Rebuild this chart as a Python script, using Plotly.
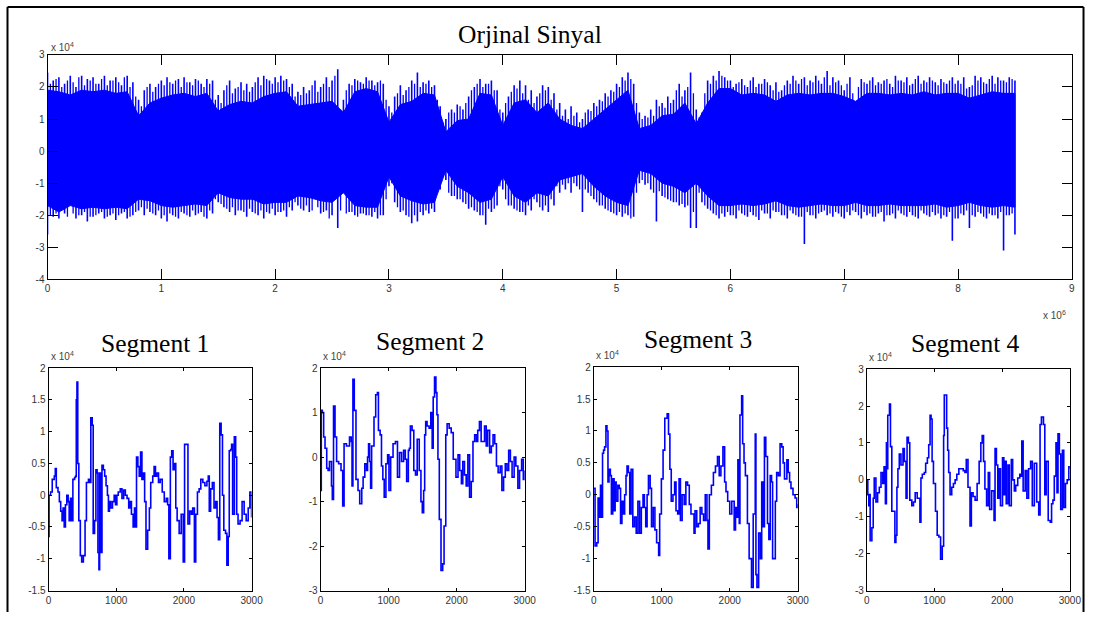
import plotly.graph_objects as go

W, H = 1097, 618
BLUE = "#0000ff"

# ---- Original signal (x in units of 1e6 samples, y in units of 1e4) ----
# inner solid body of the waveform, one value every 0.1e6 samples
core_hi = [1.9, 1.85, 1.75, 1.9, 1.85, 1.9, 1.8, 1.85, 1.1, 1.5,
           1.65, 1.75, 1.8, 1.7, 1.8, 1.25, 1.45, 1.55, 1.5, 1.7,
           1.8, 1.85, 1.4, 1.45, 1.5, 1.55, 1.2, 1.85, 1.95, 1.85,
           0.9, 1.45, 1.55, 1.8, 1.75, 0.6, 0.95, 1.0, 1.8, 1.75,
           0.8, 1.5, 1.6, 1.2, 1.5, 1.0, 0.8, 0.7, 1.0, 1.3,
           1.6, 1.9, 0.7, 0.8, 1.1, 1.15, 1.5, 0.85, 1.5, 1.95,
           1.95, 1.75, 1.8, 1.75, 1.55, 1.75, 1.8, 1.75, 1.8, 1.8,
           1.7, 1.55, 1.8, 1.8, 1.75, 1.8, 1.75, 1.85, 1.75, 1.8,
           1.8, 1.65, 1.75, 1.85, 1.8, 1.8]
core_lo = [-1.7, -1.9, -1.7, -1.8, -1.75, -1.8, -1.75, -1.8, -1.5, -1.55,
           -1.7, -1.75, -1.7, -1.65, -1.7, -1.3, -1.45, -1.5, -1.5, -1.65,
           -1.6, -1.6, -1.4, -1.45, -1.55, -1.6, -1.3, -1.7, -1.75, -1.75,
           -0.8, -1.4, -1.55, -1.65, -1.6, -0.6, -1.1, -1.3, -1.6, -1.5,
           -0.8, -1.4, -1.6, -1.3, -1.4, -0.9, -0.8, -0.7, -1.1, -1.4,
           -1.6, -1.7, -0.6, -0.7, -1.0, -1.1, -1.3, -1.0, -1.4, -1.7,
           -1.7, -1.65, -1.7, -1.65, -1.55, -1.7, -1.75, -1.7, -1.65, -1.7,
           -1.7, -1.6, -1.7, -1.7, -1.65, -1.7, -1.7, -1.7, -1.65, -1.75,
           -1.7, -1.6, -1.7, -1.75, -1.7, -1.75]

# main peaks, one value every 0.05e6 samples (starting at 0)
peak_hi = [2.45, 2.2, 2.3, 2.1, 2.35, 2.0, 2.35, 2.25, 2.3, 2.1, 2.35, 2.2, 2.3, 2.05, 2.35, 2.15, 1.6, 1.9, 2.1, 2.0,
           2.2, 2.3, 2.1, 2.25, 2.3, 2.15, 2.25, 2.1, 2.25, 2.2, 1.75, 1.9, 2.2, 1.95, 2.15, 2.1, 2.0, 2.3, 2.35, 2.2,
           2.3, 2.35, 2.25, 2.1, 1.85, 2.0, 1.9, 2.2, 2.0, 2.3, 2.2, 2.55, 1.6, 2.1, 2.25, 2.15, 2.3, 2.2, 2.15, 2.1,
           1.4, 1.7, 2.05, 1.9, 2.2, 2.45, 2.15, 2.2, 2.05, 1.4, 1.0, 1.3, 1.45, 1.3, 1.7, 2.0, 2.25, 2.1, 2.2, 1.9,
           1.2, 1.7, 2.05, 2.2, 2.05, 1.9, 1.7, 2.05, 2.0, 1.8, 1.5, 1.3, 1.4, 1.2, 1.0, 1.3, 1.5, 1.6, 1.8, 1.9,
           2.1, 2.3, 2.45, 2.1, 1.2, 1.1, 1.3, 1.6, 1.5, 1.7, 1.6, 2.1, 1.9, 2.45, 1.3, 1.2, 2.2, 2.35, 2.5, 2.3,
           2.2, 2.1, 2.25, 2.0, 2.3, 2.1, 2.25, 2.05, 2.15, 1.9, 2.2, 2.35, 2.1, 2.3, 2.2, 2.35, 2.1, 2.5, 2.3, 2.2,
           1.9, 2.3, 1.5, 2.25, 2.1, 2.3, 2.15, 2.2, 2.1, 2.35, 2.2, 2.3, 2.1, 2.35, 2.2, 2.3, 2.15, 2.25, 2.1, 2.3,
           2.2, 2.3, 2.0, 2.35, 2.3, 2.1, 2.35, 2.3, 2.2, 2.3, 2.2]
peak_lo = [-2.6, -2.05, -2.1, -1.95, -1.0, -2.1, -2.0, -2.2, -2.05, -1.95, -2.1, -2.0, -2.15, -1.95, -2.1, -2.0, -1.85, -2.0, -1.9, -2.0,
           -2.1, -2.2, -2.0, -2.1, -1.95, -2.05, -2.0, -1.9, -2.1, -1.95, -1.6, -1.75, -1.9, -2.0, -1.85, -2.05, -1.9, -2.0, -2.1, -1.95,
           -2.0, -1.9, -2.05, -1.85, -1.7, -1.85, -1.9, -0.8, -1.95, -1.85, -2.0, -2.4, -0.5, -1.9, -2.0, -1.95, -2.0, -2.05, -2.1, -2.0,
           -1.1, -1.6, -1.9, -2.0, -2.25, -2.2, -2.0, -1.95, -1.9, -1.2, -0.9, -1.4, -1.5, -1.6, -1.8, -1.85, -2.0, -2.3, -1.9, -1.7,
           -1.2, -1.7, -1.8, -1.9, -2.0, -1.85, -1.6, -1.85, -1.9, -1.7, -1.3, -1.2, -1.3, -1.1, -1.9, -1.3, -1.5, -1.7, -1.8, -1.9,
           -2.0, -2.05, -2.0, -2.05, -1.0, -1.05, -1.2, -2.2, -1.4, -1.5, -1.6, -1.7, -1.75, -2.4, -2.4, -1.6, -1.8, -1.95, -2.1, -2.05,
           -2.0, -2.1, -1.95, -2.05, -2.0, -2.15, -1.95, -2.1, -1.9, -2.0, -2.1, -1.95, -2.05, -2.9, -2.0, -2.1, -1.9, -2.0, -2.05, -1.95,
           -2.1, -2.0, -1.9, -2.1, -2.0, -2.05, -1.95, -2.2, -2.0, -2.1, -1.95, -2.05, -2.0, -2.1, -1.95, -2.05, -2.0, -2.1, -2.05, -2.8,
           -2.1, -2.0, -2.4, -2.05, -1.95, -2.1, -2.0, -2.1, -3.1, -2.0, -2.6]

# secondary peaks, in between the main ones (starting at 0.025e6)
minor_hi = [2.1, 2.25, 2.0, 2.2, 2.15, 2.3, 2.05, 2.2, 2.1, 2.25, 2.05, 2.2, 2.15, 2.3, 2.0, 1.7, 1.4, 2.0, 1.85, 2.1,
            2.05, 2.15, 2.2, 2.0, 2.15, 2.05, 2.2, 2.0, 2.1, 1.6, 1.5, 2.05, 1.8, 2.0, 1.9, 1.85, 2.15, 2.05, 2.25, 2.1,
            2.15, 2.2, 2.0, 1.7, 1.75, 1.8, 2.05, 1.85, 2.1, 2.0, 2.35, 1.3, 1.9, 2.05, 2.2, 2.1, 2.2, 2.05, 2.2, 1.6,
            1.2, 1.8, 1.75, 2.0, 2.1, 2.0, 2.1, 2.0, 1.6, 0.9, 1.2, 1.2, 1.4, 1.5, 1.9, 2.1, 2.0, 2.1, 1.9, 1.3,
            1.5, 1.85, 1.95, 1.8, 1.6, 1.5, 1.8, 1.9, 1.6, 1.3, 1.1, 1.0, 1.1, 0.9, 1.2, 1.25, 1.4, 1.55, 1.7, 1.85,
            2.0, 2.2, 2.25, 1.5, 1.0, 1.05, 1.1, 1.4, 1.35, 1.5, 1.9, 1.7, 2.0, 1.8, 1.05, 1.8, 2.1, 2.2, 2.35, 2.2,
            2.0, 2.15, 2.05, 2.2, 2.0, 2.1, 2.15, 1.9, 1.85, 2.05, 2.1, 2.2, 2.25, 2.05, 2.15, 2.2, 2.3, 2.05, 2.15, 2.05,
            2.1, 1.8, 2.0, 2.15, 2.2, 2.05, 2.1, 2.25, 2.0, 2.2, 2.15, 2.05, 2.25, 2.1, 2.15, 2.2, 2.05, 2.15, 2.2, 2.1,
            2.1, 1.95, 2.05, 2.2, 2.15, 2.25, 2.1, 2.2, 2.15, 2.25]
minor_lo = [-2.0, -1.95, -1.85, -2.05, -1.95, -2.0, -1.9, -2.05, -2.0, -1.9, -2.05, -1.95, -2.0, -1.9, -2.05, -1.9, -1.75, -1.8, -1.95, -1.85,
            -2.0, -1.95, -2.05, -1.9, -2.0, -1.85, -1.95, -2.05, -1.85, -1.5, -1.65, -1.8, -1.75, -1.85, -1.9, -1.8, -1.95, -1.85, -1.9, -1.8,
            -1.9, -1.85, -1.75, -1.6, -1.8, -1.7, -1.85, -1.75, -1.9, -2.1, -1.3, -1.85, -1.95, -1.9, -2.05, -1.95, -2.0, -1.9, -2.0, -1.5,
            -1.0, -1.75, -1.85, -2.05, -2.0, -1.9, -1.85, -1.8, -1.1, -0.8, -1.3, -1.4, -1.5, -1.65, -1.75, -1.9, -2.0, -1.8, -1.8, -1.1,
            -1.5, -1.7, -1.85, -1.9, -1.7, -1.5, -1.75, -1.7, -1.5, -1.1, -1.05, -1.0, -1.0, -1.2, -1.2, -1.4, -1.6, -1.7, -1.85, -1.95,
            -1.9, -1.95, -2.1, -1.3, -0.9, -1.0, -1.3, -1.25, -1.45, -1.55, -1.6, -1.65, -1.7, -1.9, -1.3, -1.7, -1.85, -2.0, -1.95, -1.9,
            -2.0, -1.85, -2.0, -1.9, -2.05, -1.85, -1.95, -1.85, -1.9, -2.0, -1.85, -2.0, -2.05, -1.9, -2.0, -1.95, -1.85, -1.95, -1.9, -2.05,
            -1.9, -1.85, -2.0, -1.9, -1.95, -2.05, -1.9, -2.0, -1.95, -1.85, -2.0, -1.9, -2.05, -1.85, -2.0, -1.9, -1.95, -2.0, -1.9, -2.1,
            -1.95, -1.85, -2.0, -1.9, -2.05, -1.95, -2.0, -1.9, -2.0, -1.95]

core_t = [i / 10 for i in range(len(core_hi))]
peak_t = [i / 20 for i in range(len(peak_hi))]
minor_t = [0.025 + i / 20 for i in range(len(minor_hi))]
assert len(core_lo) == len(core_hi) and len(peak_lo) == len(peak_hi) and len(minor_lo) == len(minor_hi)

# ---- Segments: (sample index, amplitude in units of 1e4) ----
seg1 = [(0, -0.65), (8, 0.0), (30, 0.05), (55, 0.25), (85, 0.3), (100, 0.42), (115, 0.12), (140, 0.05), (160, -0.1), (180, -0.25),
        (200, -0.4), (215, -0.2), (232, -0.5), (250, -0.15), (270, 0.0), (290, -0.1), (305, -0.4), (325, -0.05), (345, -0.4), (360, 0.25),
        (385, 0.28), (400, 0.3), (410, 1.5), (420, 1.78), (432, 0.5), (448, -0.4), (470, -0.95), (490, -1.05), (515, -0.95), (540, -0.4),
        (560, 0.2), (590, 0.25), (610, 0.2), (625, 1.22), (645, 1.1), (660, -0.6), (680, -0.4), (700, 0.4), (718, 0.35), (730, -0.9),
        (745, -1.17), (755, 0.35), (770, -0.9), (790, 0.47), (810, 0.4), (830, 0.3), (850, 0.15), (870, 0.0), (885, -0.25), (900, -0.1),
        (920, -0.2), (945, -0.1), (970, 0.0), (990, -0.15), (1010, 0.0), (1030, 0.05), (1060, 0.1), (1085, -0.05), (1110, 0.08), (1135, 0.0),
        (1160, -0.05), (1185, -0.2), (1205, -0.1), (1225, -0.3), (1250, -0.5), (1270, -0.2), (1290, -0.5), (1300, 0.6), (1320, 0.45), (1340, 0.3),
        (1360, 0.68), (1380, 0.25), (1400, 0.35), (1420, -0.1), (1440, -0.85), (1465, -0.55), (1490, -0.2), (1510, 0.2), (1540, 0.3), (1560, 0.45),
        (1580, 0.3), (1600, 0.35), (1625, 0.2), (1650, 0.25), (1680, 0.05), (1710, -0.1), (1740, -0.05), (1760, -0.15), (1778, -1.0), (1800, 0.6),
        (1820, 0.7), (1840, 0.4), (1860, 0.5), (1880, -0.2), (1900, -0.4), (1930, -0.6), (1960, -0.3), (1990, -1.05), (2010, 0.8), (2040, 0.8),
        (2060, -0.45), (2085, -0.25), (2110, -0.3), (2130, -0.2), (2155, -1.05), (2175, -0.3), (2200, 0.05), (2225, 0.1), (2250, 0.25), (2280, 0.2),
        (2310, 0.15), (2340, 0.22), (2360, 0.3), (2375, -0.25), (2395, 0.1), (2420, 0.2), (2445, -0.2), (2470, -0.1), (2490, -0.35), (2510, -0.7),
        (2530, 1.13), (2550, 0.95), (2570, 0.0), (2590, -0.55), (2615, -0.6), (2635, -1.1), (2655, -0.65), (2670, 0.7), (2690, 0.72), (2705, 0.8),
        (2720, -0.3), (2745, 0.92), (2765, 0.6), (2780, -0.3), (2800, -0.45), (2830, -0.4), (2860, -0.1), (2890, -0.3), (2920, -0.4), (2950, -0.2),
        (2975, 0.05), (3000, -0.35)]

seg2 = [(0, -0.75), (10, 1.05), (25, 1.0), (45, 0.45), (65, 0.2), (90, -0.25), (110, -0.3), (130, -0.1), (160, -0.65), (172, -0.95),
        (190, 1.15), (212, 0.45), (235, -0.1), (265, -0.15), (300, -0.3), (325, -1.1), (345, 0.3), (380, 0.25), (425, 0.45), (450, 0.35),
        (462, -0.65), (475, 1.75), (495, 1.05), (520, -0.5), (550, -0.75), (575, -1.05), (605, -0.7), (625, -0.45), (650, -0.15), (675, -0.3),
        (690, 0.0), (705, 0.3), (720, -0.1), (735, -0.7), (750, 0.25), (785, 0.9), (810, 1.4), (835, 1.45), (850, 0.6), (875, 0.5),
        (895, -0.2), (915, -0.5), (935, -0.9), (960, -0.15), (985, 0.05), (1005, -0.75), (1030, 0.0), (1065, 0.3), (1100, 0.35), (1130, -0.45),
        (1160, 0.1), (1190, -0.1), (1220, 0.15), (1245, -0.05), (1265, -0.55), (1290, 0.15), (1305, 0.2), (1320, 0.7), (1345, 0.6), (1370, -0.3),
        (1395, -0.4), (1420, 0.4), (1450, -0.3), (1475, -1.0), (1495, -1.25), (1515, -0.75), (1530, 0.5), (1545, 0.8), (1565, 0.7), (1595, 0.65),
        (1620, 1.0), (1640, 0.2), (1655, 1.35), (1675, 1.8), (1695, 1.45), (1710, 0.95), (1725, -0.05), (1745, -1.4), (1770, -2.55), (1795, -2.4),
        (1815, -1.55), (1840, 0.5), (1860, 0.75), (1890, 0.65), (1920, 0.55), (1950, -0.05), (1990, -0.45), (2020, 0.05), (2045, -0.3), (2070, -0.6),
        (2090, -0.1), (2115, -0.4), (2140, -0.65), (2165, 0.05), (2190, -0.9), (2215, -0.55), (2240, 0.35), (2265, 0.5), (2290, 0.35), (2310, 0.6),
        (2335, 0.8), (2360, 0.35), (2385, 0.35), (2410, 0.7), (2435, 0.25), (2455, 0.6), (2485, 0.1), (2510, 0.25), (2535, 0.5), (2560, 0.3),
        (2585, -0.2), (2610, -0.35), (2640, -0.2), (2665, -0.75), (2690, -0.45), (2715, -0.15), (2740, -0.3), (2765, 0.15), (2790, -0.1), (2815, -0.45),
        (2845, 0.0), (2870, -0.2), (2900, -0.7), (2925, -0.3), (2955, -0.05), (2980, -0.5), (3000, -0.3)]

seg3 = [(0, 0.1), (20, -0.8), (45, -0.75), (65, -0.05), (85, -0.35), (100, 0.15), (115, -0.35), (130, 0.65), (145, 0.7), (160, 0.75),
        (180, 1.08), (195, 1.0), (210, 0.2), (225, 0.4), (245, 0.3), (260, -0.3), (280, 0.25), (300, -0.25), (315, 0.2), (330, -0.1),
        (355, 0.15), (375, 0.1), (395, -0.45), (415, -0.1), (435, -0.3), (455, 0.0), (475, 0.3), (490, 0.45), (510, 0.35), (530, -0.3),
        (550, 0.4), (575, -0.5), (600, -0.35), (625, -0.6), (650, -0.1), (675, -0.6), (700, -0.2), (725, 0.0), (745, -0.2), (765, -0.5),
        (785, 0.0), (805, 0.3), (830, 0.1), (850, -0.5), (875, -0.2), (900, -0.55), (925, -0.75), (955, -0.95), (970, -0.3), (995, 0.25),
        (1020, 0.7), (1045, 1.2), (1080, 1.27), (1100, 0.95), (1120, 0.4), (1140, -0.1), (1165, 0.0), (1190, 0.2), (1210, -0.25), (1235, -0.3),
        (1255, 0.25), (1275, -0.4), (1300, 0.0), (1330, -0.15), (1355, 0.2), (1380, 0.15), (1405, -0.15), (1430, -0.3), (1475, -0.6), (1490, -0.25),
        (1515, -0.5), (1540, -0.45), (1565, -0.2), (1590, -0.3), (1615, -0.4), (1640, 0.0), (1665, -0.4), (1680, -0.85), (1700, 0.0), (1730, 0.15),
        (1760, 0.35), (1790, 0.45), (1820, 0.6), (1845, 0.3), (1870, 0.45), (1900, 0.75), (1925, 0.2), (1945, 0.05), (1970, -0.1), (2000, -0.3),
        (2030, -0.1), (2065, -0.55), (2085, -0.2), (2105, -0.35), (2120, 0.55), (2140, -0.45), (2150, 1.25), (2175, 1.55), (2190, 0.8), (2210, 0.5),
        (2230, 0.3), (2260, -0.45), (2285, -1.0), (2320, -1.45), (2345, -0.3), (2375, 0.95), (2385, -1.25), (2400, -1.45), (2425, -0.6), (2450, -1.0),
        (2470, 0.2), (2490, -0.5), (2510, 0.9), (2530, 0.6), (2555, -0.45), (2575, -0.7), (2595, 0.3), (2615, 0.2), (2630, -1.0), (2650, -1.0),
        (2670, -0.1), (2690, 0.35), (2715, 0.3), (2740, 0.8), (2765, 0.75), (2785, 0.5), (2805, 0.25), (2840, 0.55), (2860, 0.35), (2880, 0.2),
        (2900, 0.1), (2930, 0.0), (2960, -0.05), (2985, -0.2), (3000, -0.15)]

seg4 = [(0, 0.0), (15, -0.4), (30, -0.7), (40, -0.4), (50, -1.65), (75, -1.3), (95, -0.5), (110, 0.05), (135, -0.6), (160, -0.35),
        (185, -0.2), (210, 0.2), (235, -0.1), (255, 0.35), (275, -0.65), (290, 1.0), (300, 0.3), (310, 1.75), (335, 2.05), (350, 0.9),
        (370, -0.85), (415, -1.7), (430, -1.5), (445, -0.2), (460, 0.3), (480, 0.7), (505, 0.4), (535, 0.85), (555, 0.5), (580, -0.5),
        (595, 1.15), (615, 1.0), (635, -0.55), (665, -0.7), (690, -0.6), (715, -0.35), (745, -0.5), (785, -1.15), (800, 0.05), (820, 0.15),
        (850, 0.2), (870, 0.45), (895, 0.6), (915, 0.95), (935, 1.75), (950, 1.65), (965, 0.5), (985, -0.1), (1015, -0.85), (1040, -1.5),
        (1065, -1.55), (1090, -2.15), (1115, -1.8), (1135, 1.2), (1145, 2.3), (1165, 2.3), (1180, 1.4), (1195, 0.8), (1210, 0.2), (1230, -0.4),
        (1255, -0.2), (1280, -0.1), (1305, 0.0), (1330, 0.15), (1360, 0.3), (1395, 0.3), (1425, 0.25), (1450, 0.2), (1470, 0.55), (1495, -0.2),
        (1525, -1.25), (1545, -0.35), (1570, -0.45), (1600, -0.55), (1630, -0.1), (1660, 0.5), (1685, 1.0), (1705, 1.2), (1725, 0.5), (1745, -0.25),
        (1770, -0.7), (1795, 0.2), (1815, -0.8), (1845, -0.3), (1880, -1.1), (1895, 0.85), (1915, 0.4), (1935, -0.5), (1955, 0.3), (1975, -0.7),
        (2005, 0.6), (2025, -0.4), (2045, 0.5), (2060, -0.65), (2085, 0.4), (2105, -0.7), (2135, 0.55), (2155, 0.0), (2180, -0.3), (2200, -0.15),
        (2230, 0.05), (2260, 0.15), (2280, 0.1), (2290, 1.05), (2310, -0.3), (2340, 0.25), (2365, -0.5), (2390, 0.3), (2420, 0.5), (2445, -0.7),
        (2475, 0.45), (2510, -0.6), (2540, -0.95), (2560, 1.5), (2580, 1.7), (2610, 1.5), (2630, -0.4), (2650, 0.5), (2680, -1.1), (2710, -1.15),
        (2730, -0.65), (2750, -0.55), (2770, 0.1), (2795, 1.0), (2810, -0.35), (2825, 1.25), (2845, 0.7), (2865, -0.8), (2890, 0.8), (2910, -0.75),
        (2935, -0.1), (2960, 0.0), (2985, 0.35), (3000, 0.3)]

segments = [seg1, seg2, seg3, seg4]
seg_titles = ["Segment 1", "Segment 2", "Segment 3", "Segment 4"]
seg_yticks = [[-1.5, -1, -0.5, 0, 0.5, 1, 1.5, 2],
              [-3, -2, -1, 0, 1, 2],
              [-1.5, -1, -0.5, 0, 0.5, 1, 1.5, 2],
              [-3, -2, -1, 0, 1, 2, 3]]
seg_xticks = [0, 1000, 2000, 3000]
top_xticks = [0, 1, 2, 3, 4, 5, 6, 7, 8, 9]
top_yticks = [-4, -3, -2, -1, 0, 1, 2, 3]

# ---- panel placement on the page, in pixels (left, right, top, bottom) ----
top_box = (47, 1071, 53, 278)
seg_boxes = [(48, 251, 367, 590), (320, 524, 367, 590), (593, 797, 366, 590), (866, 1069, 368, 590)]
seg_title_pos = [(154, 342), (429, 340), (697, 338), (965, 342)]

# the page is shown slightly shifted and scaled down; these undo that mapping
OFF_X, SCALE_X = 2.5, 0.986
OFF_Y, SCALE_Y = 4.0, 0.983


def px(x):
    return min(max((x - OFF_X) / SCALE_X / W, 0.0), 1.0)


def py(y):
    return min(max(1 - (y - OFF_Y) / SCALE_Y / H, 0.0), 1.0)


def label(v):
    # plain hyphen-minus, as in classic plotting output
    return "%g" % v


fig = go.Figure()

# original signal: solid body, then the vertical peak strokes
fig.add_trace(go.Scatter(
    x=core_t + core_t[::-1], y=core_hi + core_lo[::-1],
    fill="toself", fillcolor=BLUE, line=dict(color=BLUE, width=1),
    mode="lines", xaxis="x", yaxis="y", hoverinfo="skip"))
for ts, los, his, w in ((peak_t, peak_lo, peak_hi, 1.6), (minor_t, minor_lo, minor_hi, 1.3)):
    sx, sy = [], []
    for t, lo, hi in zip(ts, los, his):
        sx += [t, t, None]
        sy += [lo, hi, None]
    fig.add_trace(go.Scatter(x=sx, y=sy, mode="lines", line=dict(color=BLUE, width=w),
                             xaxis="x", yaxis="y", hoverinfo="skip"))

for k, seg in enumerate(segments):
    xs = [p[0] for p in seg]
    ys = [p[1] for p in seg]
    fig.add_trace(go.Scatter(x=xs, y=ys, mode="lines", line=dict(color=BLUE, width=1.6, shape="hv"),
                             xaxis="x%d" % (k + 2), yaxis="y%d" % (k + 2)))

tick_font = dict(family="Liberation Sans, Arial, sans-serif", size=10, color="#333333")
axis_common = dict(showline=True, linecolor="black", linewidth=1, mirror="ticks",
                   ticks="inside", tickcolor="black", showgrid=False, zeroline=False,
                   tickfont=tick_font, fixedrange=True)

layout = dict(
    width=W, height=H, autosize=False,
    margin=dict(l=0, r=0, t=0, b=0),
    paper_bgcolor="white", plot_bgcolor="white",
    showlegend=False,
)

l, r, t, b = top_box
layout["xaxis"] = dict(axis_common, domain=[px(l), px(r)], range=[0, 9], tickvals=top_xticks,
                       ticktext=[label(v) for v in top_xticks], ticklen=10, anchor="y")
layout["yaxis"] = dict(axis_common, domain=[py(b), py(t)], range=[-4, 3], tickvals=top_yticks,
                       ticktext=[label(v) for v in top_yticks], ticklen=10, anchor="x")

serif = dict(family="Liberation Serif, Times New Roman, serif", size=25.5, color="black")
small = dict(family="Liberation Sans, Arial, sans-serif", size=10, color="#444444")


def note(text, x, y, font, xanchor="center"):
    return dict(text=text, x=px(x), y=py(y), xref="paper", yref="paper", showarrow=False,
                xanchor=xanchor, yanchor="middle", font=font)


annotations = [
    note("Orjinal Sinyal", 529, 33, serif),
    note("x 10<sup>4</sup>", 48, 45, small, "left"),
    note("x 10<sup>6</sup>", 1040, 314, small, "left"),
]

for k, ((l, r, t, b), title, yt, (tx, ty)) in enumerate(zip(seg_boxes, seg_titles, seg_yticks, seg_title_pos)):
    n = k + 2
    layout["xaxis%d" % n] = dict(axis_common, domain=[px(l), px(r)], range=[0, 3000],
                                 tickvals=seg_xticks, ticktext=[label(v) for v in seg_xticks],
                                 ticklen=3, anchor="y%d" % n)
    layout["yaxis%d" % n] = dict(axis_common, domain=[py(b), py(t)], range=[yt[0], yt[-1]],
                                 tickvals=yt, ticktext=[label(v) for v in yt], ticklen=3, anchor="x%d" % n)
    annotations.append(note(title, tx, ty, serif))
    annotations.append(note("x 10<sup>4</sup>", l, t - 12, small, "left"))

layout["annotations"] = annotations

# outer frame (top, left and right edges)
frame = dict(type="line", xref="paper", yref="paper", line=dict(color="black", width=2))
edge_top = min(py(5), 1 - 1.0 / H)
edge_left = px(7)
edge_right = min(px(1089), 1 - 1.5 / W)
layout["shapes"] = [
    dict(frame, x0=edge_left, x1=edge_right, y0=edge_top, y1=edge_top),
    dict(frame, x0=edge_left, x1=edge_left, y0=edge_top, y1=0),
    dict(frame, x0=edge_right, x1=edge_right, y0=edge_top, y1=0),
]

fig.update_layout(**layout)
fig.write_html("out.html")
